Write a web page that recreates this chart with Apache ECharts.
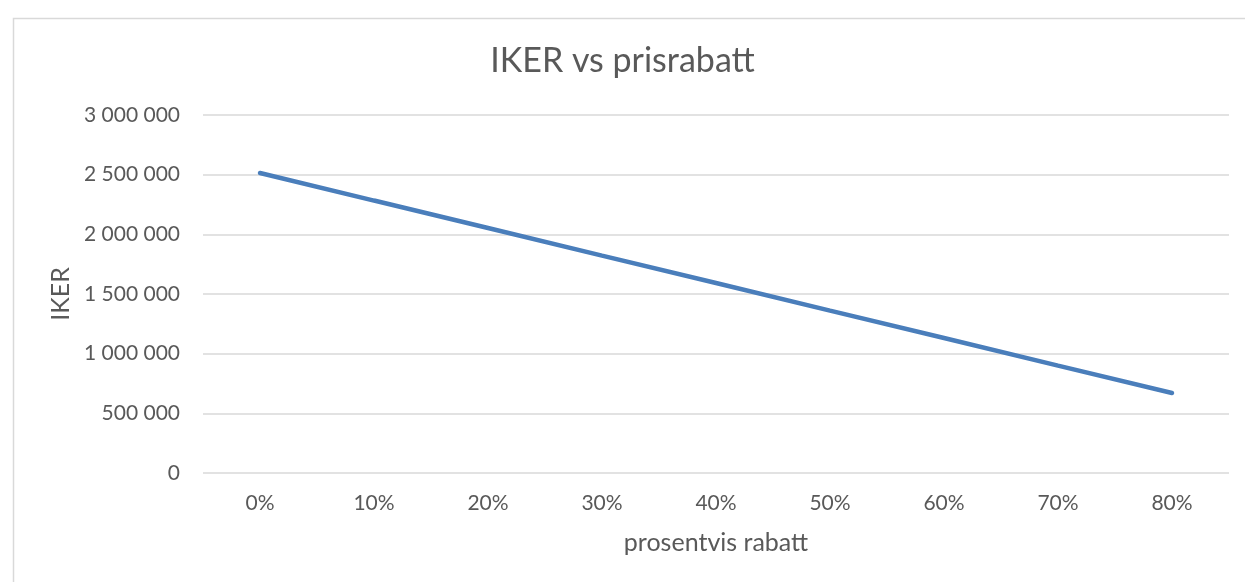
<!DOCTYPE html>
<html>
<head>
<meta charset="utf-8">
<script src="https://cdn.jsdelivr.net/npm/echarts@6/dist/echarts.min.js"></script>
<style>
  html, body { margin: 0; padding: 0; background: #fff; }
  #chart { width: 1245px; height: 582px; }
</style>
</head>
<body>
<div id="chart"></div>
<script>
var rabattLabels = ['0%', '10%', '20%', '30%', '40%', '50%', '60%', '70%', '80%'];
var ikerValues = [2514000, 2283000, 2053000, 1822000, 1592000, 1361000, 1131000, 900000, 670000];
var yTicks = [0, 500000, 1000000, 1500000, 2000000, 2500000, 3000000];

var myChart = echarts.init(document.getElementById('chart'));

// tusenskille med mellomrom, som i originalen
function fmt(v) {
    return String(v).replace(/\B(?=(\d{3})+(?!\d))/g, ' ');
}

var option = {
    animation: false,
    textStyle: { fontFamily: 'Lato, "Open Sans", sans-serif', color: '#595959' },
    graphic: [{
        type: 'rect',
        left: 11, top: 16,
        shape: { width: 1260, height: 600 },
        style: { fill: 'none', stroke: '#d9d9d9', lineWidth: 1.5 },
        silent: true
    }],
    title: {
        text: 'IKER vs prisrabatt',
        left: 'center',
        top: 39,
        textStyle: { fontSize: 34, fontWeight: 'normal', color: '#595959', fontFamily: 'Lato, "Open Sans", sans-serif' }
    },
    grid: { left: 203, right: 16, top: 115, bottom: 109, containLabel: false },
    xAxis: {
        type: 'category',
        data: rabattLabels,
        boundaryGap: true,
        name: 'prosentvis rabatt',
        nameLocation: 'middle',
        nameGap: 57,
        nameTextStyle: { fontSize: 25, color: '#595959' },
        axisLine: { show: false },
        axisTick: { show: false },
        axisLabel: { fontSize: 21, color: '#595959', margin: 20 }
    },
    yAxis: {
        type: 'value',
        min: 0,
        max: yTicks[yTicks.length - 1],
        interval: yTicks[1] - yTicks[0],
        name: 'IKER',
        nameLocation: 'middle',
        nameRotate: 90,
        nameGap: 130,
        nameTextStyle: { fontSize: 25, color: '#595959' },
        axisLine: { show: false },
        axisTick: { show: false },
        axisLabel: { fontSize: 21, color: '#595959', margin: 23, formatter: fmt },
        splitLine: { lineStyle: { color: '#d9d9d9', width: 1.5 } }
    },
    series: [{
        type: 'line',
        data: ikerValues,
        symbol: 'none',
        lineStyle: { color: '#4a7ebb', width: 4.5, cap: 'round' },
        itemStyle: { color: '#4a7ebb' }
    }]
};

myChart.setOption(option);
</script>
</body>
</html>
